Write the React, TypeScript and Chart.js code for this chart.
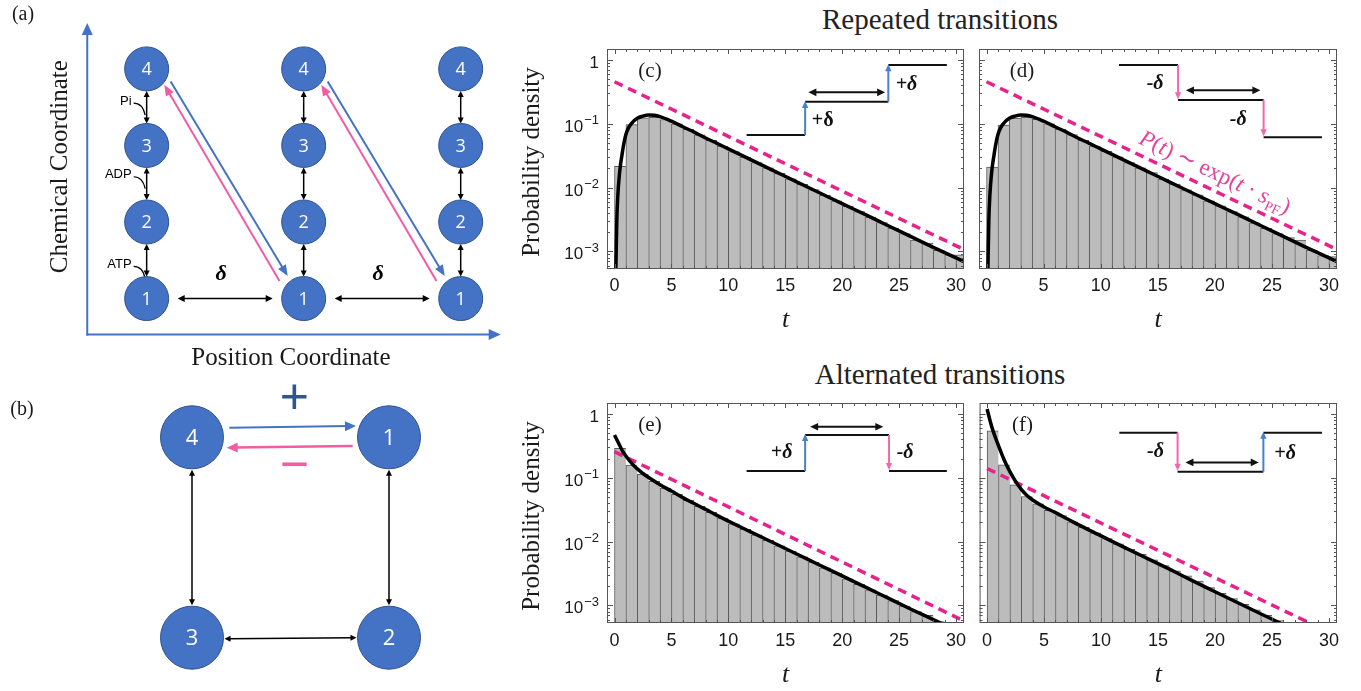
import React, { useEffect, useRef } from "react";
import { Chart, registerables } from "chart.js";

Chart.register(...registerables);

/* ---------- histogram bins: width 1, left edges ---------- */
const binLeft = [0, 1, 2, 3, 4, 5, 6, 7, 8, 9, 10, 11, 12, 13, 14, 15, 16, 17, 18, 19, 20, 21, 22, 23, 24, 25, 26, 27, 28, 29, 30];

const barsRepeatedPlus = [0.0215, 0.097, 0.124, 0.127, 0.117, 0.1, 0.082, 0.067, 0.055, 0.045, 0.0367, 0.0302, 0.0248, 0.0204, 0.0167, 0.0137, 0.0113, 0.0093, 0.0076, 0.0062, 0.0051, 0.0042, 0.00345, 0.00284, 0.00233, 0.00191, 0.0015, 0.00135, 0.00104, 0.00088, 0.00088];
const barsRepeatedMinus = [0.021, 0.096, 0.123, 0.126, 0.118, 0.1, 0.083, 0.068, 0.055, 0.045, 0.037, 0.0305, 0.0246, 0.0205, 0.0172, 0.0136, 0.0114, 0.0092, 0.0077, 0.0062, 0.0052, 0.0042, 0.0035, 0.0028, 0.0023, 0.0019, 0.00165, 0.0015, 0.00105, 0.00086, 0.00083];
const barsAlternatedPlusMinus = [0.29, 0.158, 0.113, 0.088, 0.069, 0.055, 0.0445, 0.0357, 0.0288, 0.0233, 0.019, 0.0156, 0.0128, 0.0105, 0.0086, 0.0071, 0.0058, 0.0048, 0.0039, 0.0032, 0.0026, 0.00215, 0.00176, 0.00145, 0.00119, 0.00098, 0.0008, 0.0007, 0.00056, 0.00046];
const barsAlternatedMinusPlus = [0.545, 0.16, 0.078, 0.051, 0.039, 0.031, 0.0255, 0.0205, 0.0167, 0.0137, 0.0112, 0.0092, 0.0076, 0.0063, 0.0052, 0.0042, 0.0035, 0.0029, 0.0024, 0.0019, 0.00155, 0.00128, 0.00104, 0.00085, 0.0007, 0.00058];

/* ---------- model densities ---------- */
const tRepeated = [0.12, 0.2, 0.3, 0.4, 0.5, 0.65, 0.8, 1, 1.25, 1.5, 2, 2.5, 3, 3.5, 4, 5, 6, 7, 8, 9, 10, 12, 14, 16, 18, 20, 22, 24, 26, 28, 30, 30.7];
const densityRepeated = [0.0005, 0.003, 0.008, 0.014, 0.021, 0.032, 0.047, 0.068, 0.088, 0.102, 0.122, 0.132, 0.137, 0.136, 0.13, 0.11, 0.09, 0.074, 0.06, 0.0495, 0.0405, 0.0272, 0.0183, 0.0123, 0.0083, 0.0056, 0.0038, 0.00255, 0.00172, 0.00116, 0.00079, 0.00069];

const tAltPlusMinus = [0, 0.25, 0.5, 0.75, 1, 1.5, 2, 2.5, 3, 4, 5, 6, 7, 8, 9, 10, 12, 14, 16, 18, 20, 22, 24, 26, 28, 29.5];
const densityAltPlusMinus = [0.47, 0.38, 0.31, 0.255, 0.22, 0.17, 0.138, 0.117, 0.101, 0.078, 0.062, 0.049, 0.0395, 0.032, 0.0258, 0.021, 0.0141, 0.0095, 0.0064, 0.0043, 0.0029, 0.00195, 0.00131, 0.00088, 0.0006, 0.00045];

const tAltMinusPlus = [0, 0.25, 0.5, 0.75, 1, 1.5, 2, 2.5, 3, 3.5, 4, 5, 6, 7, 8, 9, 10, 12, 14, 16, 18, 20, 22, 24, 26];
const densityAltMinusPlus = [1.2, 0.8, 0.56, 0.42, 0.32, 0.19, 0.125, 0.088, 0.066, 0.053, 0.045, 0.035, 0.0285, 0.0228, 0.0185, 0.015, 0.0123, 0.0082, 0.0055, 0.0037, 0.00245, 0.00164, 0.0011, 0.00074, 0.0005];

/* ---------- asymptotic exp(t · s_PF) lines ---------- */
const tAsymRepeated = [0, 30.7];
const asymRepeated = [0.457, 0.00107];
const tAsymAltPlusMinus = [0, 30.7];
const asymAltPlusMinus = [0.257, 0.00057];
const tAsymAltMinusPlus = [0, 28.3];
const asymAltMinusPlus = [0.14, 0.00053];

/* ---------- axis ticks ---------- */
const xTickValues = [0, 5, 10, 15, 20, 25, 30];
const yTickValues = [0.001, 0.01, 0.1, 1];
const yTickExponents = ["\u22123", "\u22122", "\u22121", ""];

/* ---------- network diagrams ---------- */
const positionColumns = [0, 1, 2];
const chemicalStates = [1, 2, 3, 4];
const chemicalLabels = ["ATP", "ADP", "Pi"];
const ringStates = [4, 1, 3, 2];
const ringCol = [0, 1, 0, 1];
const ringRow = [1, 1, 0, 0];

const BLUE = "#4472c4";
const NODE_EDGE = "#2f528f";
const PINK = "#f25ca2";
const INSET_BLUE = "#4a7fd0";
const INSET_PINK = "#f268ae";
const DASH = "#e6228c";
const TEXT = "#1a1a1a";

function drawArrow(ctx: any, x1: number, y1: number, x2: number, y2: number, color: string, width: number, hl: number, hw: number, both = false) {
  const a = Math.atan2(y2 - y1, x2 - x1);
  const c = Math.cos(a);
  const s = Math.sin(a);
  ctx.save();
  ctx.strokeStyle = color;
  ctx.fillStyle = color;
  ctx.lineWidth = width;
  ctx.lineCap = "butt";
  ctx.beginPath();
  ctx.moveTo(both ? x1 + c * hl * 0.7 : x1, both ? y1 + s * hl * 0.7 : y1);
  ctx.lineTo(x2 - c * hl * 0.7, y2 - s * hl * 0.7);
  ctx.stroke();
  const head = (tx: number, ty: number, dc: number, ds: number) => {
    ctx.beginPath();
    ctx.moveTo(tx, ty);
    ctx.lineTo(tx - dc * hl - ds * hw, ty - ds * hl + dc * hw);
    ctx.lineTo(tx - dc * hl + ds * hw, ty - ds * hl - dc * hw);
    ctx.closePath();
    ctx.fill();
  };
  head(x2, y2, c, s);
  if (both) head(x1, y1, -c, -s);
  ctx.restore();
}

/* step sketches drawn in the corner of each histogram (fractions of the plot area) */
type Inset = {
  lines: number[][];
  arrows: { p: number[]; color: string }[];
  doubles: number[][];
  labels: { text: string; fx: number; fy: number; italic: boolean }[];
};

const insetC: Inset = {
  lines: [[0.391, 0.391, 0.555, 0.391], [0.555, 0.24, 0.788, 0.24], [0.788, 0.073, 0.952, 0.073]],
  arrows: [{ p: [0.555, 0.391, 0.555, 0.236], color: INSET_BLUE }, { p: [0.788, 0.24, 0.788, 0.069], color: INSET_BLUE }],
  doubles: [[0.564, 0.197, 0.779, 0.197]],
  labels: [{ text: "+\u03b4", fx: 0.604, fy: 0.352, italic: false }, { text: "+\u03b4", fx: 0.839, fy: 0.186, italic: true }],
};
const insetD: Inset = {
  lines: [[0.391, 0.073, 0.556, 0.073], [0.556, 0.232, 0.795, 0.232], [0.795, 0.401, 0.958, 0.401]],
  arrows: [{ p: [0.556, 0.073, 0.556, 0.228], color: INSET_PINK }, { p: [0.795, 0.232, 0.795, 0.397], color: INSET_PINK }],
  doubles: [[0.578, 0.188, 0.786, 0.188]],
  labels: [{ text: "-\u03b4", fx: 0.492, fy: 0.182, italic: true }, { text: "-\u03b4", fx: 0.724, fy: 0.345, italic: true }],
};
const insetE: Inset = {
  lines: [[0.391, 0.309, 0.555, 0.309], [0.555, 0.145, 0.79, 0.145], [0.79, 0.309, 0.952, 0.309]],
  arrows: [{ p: [0.555, 0.309, 0.555, 0.141], color: INSET_BLUE }, { p: [0.79, 0.145, 0.79, 0.305], color: INSET_PINK }],
  doubles: [[0.569, 0.108, 0.774, 0.108]],
  labels: [{ text: "+\u03b4", fx: 0.489, fy: 0.25, italic: true }, { text: "-\u03b4", fx: 0.835, fy: 0.25, italic: true }],
};
const insetF: Inset = {
  lines: [[0.391, 0.135, 0.554, 0.135], [0.554, 0.312, 0.794, 0.312], [0.794, 0.135, 0.958, 0.135]],
  arrows: [{ p: [0.554, 0.135, 0.554, 0.308], color: INSET_PINK }, { p: [0.794, 0.312, 0.794, 0.131], color: INSET_BLUE }],
  doubles: [[0.576, 0.27, 0.781, 0.27]],
  labels: [{ text: "-\u03b4", fx: 0.492, fy: 0.245, italic: true }, { text: "+\u03b4", fx: 0.855, fy: 0.255, italic: true }],
};

const noteSegments = [
  { text: "P", italic: true, size: 23, dy: 0 },
  { text: "(", italic: false, size: 23, dy: 0 },
  { text: "t", italic: true, size: 23, dy: 0 },
  { text: ") \u223c exp(", italic: false, size: 23, dy: 0 },
  { text: "t", italic: true, size: 23, dy: 0 },
  { text: " \u00b7 ", italic: false, size: 23, dy: 0 },
  { text: "s", italic: true, size: 23, dy: 0 },
  { text: "PF", italic: false, size: 14, dy: 5 },
  { text: ")", italic: false, size: 23, dy: 0 },
];

type PanelSpec = {
  id: string;
  tag: string;
  box: { x: number; y: number; w: number; h: number };
  pad: { left: number; right: number; top: number };
  axisH: number;
  tickPad: number;
  titlePad: number;
  bars: number[];
  curveT: number[];
  curve: number[];
  asymT: number[];
  asym: number[];
  yLabels: boolean;
  inset: Inset;
  note: boolean;
};

const panels: PanelSpec[] = [
  { id: "c", tag: "(c)", box: { x: 510, y: 40, w: 465, h: 300 }, pad: { left: 97, right: 11, top: 9 }, axisH: 71, tickPad: 6, titlePad: 4,
    bars: barsRepeatedPlus, curveT: tRepeated, curve: densityRepeated, asymT: tAsymRepeated, asym: asymRepeated, yLabels: true, inset: insetC, note: false },
  { id: "d", tag: "(d)", box: { x: 975, y: 40, w: 380, h: 300 }, pad: { left: 4, right: 18, top: 9 }, axisH: 71, tickPad: 6, titlePad: 4,
    bars: barsRepeatedMinus, curveT: tRepeated, curve: densityRepeated, asymT: tAsymRepeated, asym: asymRepeated, yLabels: false, inset: insetD, note: true },
  { id: "e", tag: "(e)", box: { x: 510, y: 394, w: 465, h: 297 }, pad: { left: 97, right: 11, top: 9 }, axisH: 68, tickPad: 7, titlePad: 0,
    bars: barsAlternatedPlusMinus, curveT: tAltPlusMinus, curve: densityAltPlusMinus, asymT: tAsymAltPlusMinus, asym: asymAltPlusMinus, yLabels: true, inset: insetE, note: false },
  { id: "f", tag: "(f)", box: { x: 975, y: 394, w: 380, h: 297 }, pad: { left: 4, right: 18, top: 9 }, axisH: 68, tickPad: 7, titlePad: 0,
    bars: barsAlternatedMinusPlus, curveT: tAltMinusPlus, curve: densityAltMinusPlus, asymT: tAsymAltMinusPlus, asym: asymAltMinusPlus, yLabels: false, inset: insetF, note: false },
];

function histDecor(spec: PanelSpec) {
  return {
    id: "histDecor",
    afterDatasetsDraw(chart: any) {
      const { ctx, chartArea: a } = chart;
      const xs = chart.scales.x;
      const ys = chart.scales.y;
      const w = a.right - a.left;
      const h = a.bottom - a.top;
      const X = (f: number) => a.left + f * w;
      const Y = (f: number) => a.top + f * h;
      ctx.save();

      // step sketch
      ctx.strokeStyle = "#111";
      ctx.lineWidth = 2;
      ctx.beginPath();
      for (const l of spec.inset.lines) {
        ctx.moveTo(X(l[0]), Y(l[1]));
        ctx.lineTo(X(l[2]), Y(l[3]));
      }
      ctx.stroke();
      for (const ar of spec.inset.arrows) {
        drawArrow(ctx, X(ar.p[0]), Y(ar.p[1]), X(ar.p[2]), Y(ar.p[3]), ar.color, 2, 7, 3.2);
      }
      for (const d of spec.inset.doubles) {
        drawArrow(ctx, X(d[0]), Y(d[1]), X(d[2]), Y(d[3]), "#111", 2, 8, 3.8, true);
      }
      ctx.fillStyle = "#111";
      ctx.textAlign = "center";
      ctx.textBaseline = "alphabetic";
      for (const lb of spec.inset.labels) {
        ctx.font = (lb.italic ? "italic " : "") + 'bold 20px "Liberation Serif"';
        ctx.fillText(lb.text, X(lb.fx), Y(lb.fy));
      }

      // annotation along the asymptote
      if (spec.note) {
        const p0x = xs.getPixelForValue(spec.asymT[0]);
        const p0y = ys.getPixelForValue(spec.asym[0]);
        const p1x = xs.getPixelForValue(spec.asymT[1]);
        const p1y = ys.getPixelForValue(spec.asym[1]);
        const ang = Math.atan2(p1y - p0y, p1x - p0x);
        const f = 0.419;
        const bx = p0x + f * (p1x - p0x) + 10 * Math.sin(ang);
        const by = p0y + f * (p1y - p0y) - 10 * Math.cos(ang);
        ctx.save();
        ctx.translate(bx, by);
        ctx.rotate(ang);
        ctx.fillStyle = "#e3449a";
        ctx.textAlign = "left";
        let cx = 0;
        for (const sg of noteSegments) {
          ctx.font = (sg.italic ? "italic " : "") + sg.size + 'px "Liberation Serif"';
          ctx.fillText(sg.text, cx, sg.dy);
          cx += ctx.measureText(sg.text).width;
        }
        ctx.restore();
      }

      // frame
      ctx.strokeStyle = "#555";
      ctx.lineWidth = 1;
      ctx.strokeRect(a.left + 0.5, a.top + 0.5, w - 1, h - 1);

      // inward ticks on all four sides
      ctx.beginPath();
      for (let v = Math.ceil(xs.min); v <= Math.floor(xs.max); v++) {
        const px = Math.round(xs.getPixelForValue(v)) + 0.5;
        const len = v % 5 === 0 ? 5 : 3;
        ctx.moveTo(px, a.bottom);
        ctx.lineTo(px, a.bottom - len);
        ctx.moveTo(px, a.top);
        ctx.lineTo(px, a.top + len);
      }
      for (let e = -4; e <= 0; e++) {
        for (let m = 1; m <= 9; m++) {
          const v = m * Math.pow(10, e);
          if (v < ys.min || v > ys.max) continue;
          const py = Math.round(ys.getPixelForValue(v)) + 0.5;
          const len = m === 1 ? 6 : 3;
          ctx.moveTo(a.left, py);
          ctx.lineTo(a.left + len, py);
          ctx.moveTo(a.right, py);
          ctx.lineTo(a.right - len, py);
        }
      }
      ctx.stroke();

      // panel tag
      ctx.fillStyle = TEXT;
      ctx.textAlign = "center";
      ctx.font = '21px "Liberation Serif"';
      ctx.fillText(spec.tag, a.left + 43, a.top + 28);

      // log tick labels and axis name
      if (spec.yLabels) {
        const right = a.left - 8;
        ctx.textAlign = "left";
        yTickValues.forEach((v, i) => {
          const y = ys.getPixelForValue(v);
          const exp = yTickExponents[i];
          const base = exp ? "10" : "1";
          ctx.font = '17px "Liberation Sans"';
          const wb = ctx.measureText(base).width;
          ctx.font = '13px "Liberation Sans"';
          const we = exp ? ctx.measureText(exp).width + 1 : 0;
          ctx.font = '17px "Liberation Sans"';
          ctx.fillText(base, right - we - wb, y + 8);
          if (exp) {
            ctx.font = '13px "Liberation Sans"';
            ctx.fillText(exp, right - we + 1, y + 0.5);
          }
        });
        ctx.save();
        ctx.translate(a.left - 68.5, (a.top + a.bottom) / 2 + 3);
        ctx.rotate(-Math.PI / 2);
        ctx.textAlign = "center";
        ctx.font = '25px "Liberation Serif"';
        ctx.fillText("Probability density", 0, 0);
        ctx.restore();
      }
      ctx.restore();
    },
  };
}

function histConfig(spec: PanelSpec): any {
  const barData = spec.bars.map((v, i) => ({ x: binLeft[i] + 0.5, y: v }));
  const curveData = spec.curveT.map((t, i) => ({ x: t, y: spec.curve[i] }));
  const asymData = spec.asymT.map((t, i) => ({ x: t, y: spec.asym[i] }));
  return {
    type: "bar",
    data: {
      datasets: [
        { type: "line", data: curveData, borderColor: "#000", borderWidth: 3.5, pointRadius: 0, cubicInterpolationMode: "monotone", fill: false, order: 1, clip: 0 },
        { type: "line", data: asymData, borderColor: DASH, borderWidth: 3.5, borderDash: [9, 6], pointRadius: 0, fill: false, order: 2, clip: 0 },
        { type: "bar", data: barData, backgroundColor: "#bcbcbc", borderColor: "#5a5a5a", borderWidth: { top: 1, left: 1, right: 0, bottom: 0 }, barPercentage: 1, categoryPercentage: 1, order: 3, clip: 0 },
      ],
    },
    options: {
      responsive: false,
      animation: false,
      events: [],
      layout: { autoPadding: false, padding: { left: spec.pad.left, right: spec.pad.right, top: spec.pad.top, bottom: 0 } },
      plugins: { legend: { display: false }, tooltip: { enabled: false } },
      scales: {
        x: {
          type: "linear",
          min: -0.66,
          max: 30.7,
          bounds: "data",
          offset: false,
          grid: { display: false, drawTicks: false },
          border: { display: false },
          afterBuildTicks: (s: any) => {
            s.ticks = xTickValues.map((v) => ({ value: v }));
          },
          ticks: { autoSkip: false, maxRotation: 0, padding: spec.tickPad, color: TEXT, font: { family: "Liberation Sans", size: 18 }, callback: (v: any) => String(v) },
          title: { display: true, text: "t", color: TEXT, font: { family: "Liberation Serif", style: "italic", size: 26 }, padding: { top: 0, bottom: spec.titlePad } },
          afterFit: (s: any) => {
            s.height = spec.axisH;
          },
        },
        y: { type: "logarithmic", min: 5.3e-4, max: 1.49, bounds: "data", display: false },
      },
    },
    plugins: [histDecor(spec)],
  };
}

function HistPanel({ spec }: { spec: PanelSpec }) {
  const ref = useRef<HTMLCanvasElement>(null);
  useEffect(() => {
    const chart = new Chart(ref.current as HTMLCanvasElement, histConfig(spec));
    return () => chart.destroy();
  }, [spec]);
  return (
    <canvas ref={ref} width={spec.box.w} height={spec.box.h}
      style={{ position: "absolute", left: spec.box.x, top: spec.box.y, width: spec.box.w, height: spec.box.h }} />
  );
}

/* ---------- (a) position/chemical state lattice ---------- */
const NODE_R_A = 22;
const networkAPlugin = {
  id: "networkA",
  beforeDatasetsDraw(chart: any) {
    const { ctx } = chart;
    const px = (c: number) => chart.scales.x.getPixelForValue(c);
    const py = (s: number) => chart.scales.y.getPixelForValue(s);
    const r = NODE_R_A;
    const first = positionColumns[0];
    const last = positionColumns[positionColumns.length - 1];
    const low = chemicalStates[0];
    const high = chemicalStates[chemicalStates.length - 1];
    ctx.save();
    // coordinate axes
    const ox = px(first) - 59.4;
    const oy = py(low) + 36;
    drawArrow(ctx, ox, oy + 1, ox, py(high) - 46, BLUE, 2, 12, 5.5);
    drawArrow(ctx, ox - 1, oy, px(last) + 40, oy, BLUE, 2, 12, 5.5);
    // chemical transitions within each position
    for (const c of positionColumns) {
      for (let i = 0; i < chemicalStates.length - 1; i++) {
        const x = px(c);
        drawArrow(ctx, x, py(chemicalStates[i + 1]) + r, x, py(chemicalStates[i]) - r, "#000", 1.5, 6, 3, true);
      }
    }
    // ATP / ADP / Pi tags with hooks in the first column
    const tagShift = [4, -9, -6];
    ctx.font = '13px "Liberation Sans"';
    ctx.fillStyle = "#000";
    ctx.strokeStyle = "#000";
    ctx.lineWidth = 1.2;
    ctx.textBaseline = "middle";
    ctx.textAlign = "right";
    chemicalLabels.forEach((lb, i) => {
      const x = px(first);
      const y = (py(chemicalStates[i]) + py(chemicalStates[i + 1])) / 2 + tagShift[i];
      ctx.fillText(lb, x - 15, y);
      ctx.beginPath();
      ctx.moveTo(x - 13, y + 2);
      ctx.quadraticCurveTo(x - 4, y + 2, x - 1.5, y + 14);
      ctx.stroke();
    });
    // mechanical steps between ground states
    for (let k = 0; k < positionColumns.length - 1; k++) {
      const y = py(low);
      const x1 = px(positionColumns[k]) + r + 9;
      const x2 = px(positionColumns[k + 1]) - r - 9;
      drawArrow(ctx, x1, y, x2, y, "#000", 1.5, 7, 3.5, true);
      ctx.font = 'italic bold 22px "Liberation Serif"';
      ctx.textAlign = "center";
      ctx.textBaseline = "alphabetic";
      ctx.fillText("\u03b4", (x1 + x2) / 2 - 4, y - 18.5);
      // forward (blue) and backward (pink) power-stroke transitions
      const n4x = px(positionColumns[k]);
      const n4y = py(high);
      const n1x = px(positionColumns[k + 1]);
      const n1y = py(low);
      drawArrow(ctx, n4x + 24, n4y + 12.5, n1x - 16, n1y - 22.5, BLUE, 2, 11, 4.5);
      drawArrow(ctx, n1x - 24.2, n1y - 17.5, n4x + 17.6, n4y + 15.8, PINK, 2, 11, 4.5);
    }
    ctx.restore();
  },
  afterDatasetsDraw(chart: any) {
    const { ctx } = chart;
    const px = (c: number) => chart.scales.x.getPixelForValue(c);
    const py = (s: number) => chart.scales.y.getPixelForValue(s);
    ctx.save();
    ctx.fillStyle = "#fff";
    ctx.font = '18px "Open Sans"';
    ctx.textAlign = "center";
    ctx.textBaseline = "middle";
    for (const c of positionColumns) for (const s of chemicalStates) ctx.fillText(String(s), px(c), py(s) + 1);
    ctx.fillStyle = TEXT;
    ctx.textBaseline = "alphabetic";
    ctx.font = '20px "Liberation Serif"';
    ctx.fillText("(a)", 23, 20);
    ctx.font = '25px "Liberation Serif"';
    const ox = px(positionColumns[0]) - 59.4;
    const oy = py(chemicalStates[0]) + 36;
    ctx.fillText("Position Coordinate", (ox + px(positionColumns[positionColumns.length - 1]) + 40) / 2 - 3, oy + 30);
    ctx.save();
    ctx.translate(ox - 20.3, 166.7);
    ctx.rotate(-Math.PI / 2);
    ctx.fillText("Chemical Coordinate", 0, 0);
    ctx.restore();
    ctx.restore();
  },
};

function networkAConfig(): any {
  const data: any[] = [];
  for (const c of positionColumns) for (const s of chemicalStates) data.push({ x: c, y: s, r: NODE_R_A });
  return {
    type: "bubble",
    data: { datasets: [{ data, backgroundColor: BLUE, borderColor: NODE_EDGE, borderWidth: 1, clip: false }] },
    options: {
      responsive: false,
      animation: false,
      events: [],
      layout: { autoPadding: false, padding: 0 },
      plugins: { legend: { display: false }, tooltip: { enabled: false } },
      scales: {
        x: { type: "linear", display: false, min: -0.934, max: 2.314, bounds: "data" },
        y: { type: "linear", display: false, min: 0.0667, max: 4.9, bounds: "data" },
      },
    },
    plugins: [networkAPlugin],
  };
}

/* ---------- (b) four-state cycle ---------- */
const NODE_R_B = 31.5;
const networkBPlugin = {
  id: "networkB",
  beforeDatasetsDraw(chart: any) {
    const { ctx } = chart;
    const px = (c: number) => chart.scales.x.getPixelForValue(c);
    const py = (r: number) => chart.scales.y.getPixelForValue(r);
    const node = (s: number) => {
      const i = ringStates.indexOf(s);
      return { x: px(ringCol[i]), y: py(ringRow[i]) };
    };
    const r = NODE_R_B;
    const n1 = node(1), n2 = node(2), n3 = node(3), n4 = node(4);
    ctx.save();
    drawArrow(ctx, n4.x + 37.3, n4.y - 9.6, n1.x - 33, n1.y - 11.3, BLUE, 2, 11, 5);
    drawArrow(ctx, n1.x - 36.3, n1.y + 8.7, n4.x + 34.7, n4.y + 10.4, PINK, 2.5, 11, 5);
    drawArrow(ctx, n4.x, n4.y + r + 1, n3.x, n3.y - r - 1, "#000", 1.5, 6, 3, true);
    drawArrow(ctx, n1.x, n1.y + r + 1, n2.x, n2.y - r - 1, "#000", 1.5, 6, 3, true);
    drawArrow(ctx, n3.x + r + 1, n3.y + 1, n2.x - r - 1, n2.y, "#000", 1.5, 6, 3, true);
    ctx.textAlign = "center";
    ctx.textBaseline = "middle";
    ctx.font = '50px "Liberation Sans"';
    ctx.fillStyle = "#2f5597";
    ctx.fillText("+", (n4.x + n1.x) / 2 + 3.8, n4.y - 38);
    ctx.fillStyle = PINK;
    ctx.fillText("\u2212", (n4.x + n1.x) / 2 + 3.8, n4.y + 30.4);
    ctx.restore();
  },
  afterDatasetsDraw(chart: any) {
    const { ctx } = chart;
    const px = (c: number) => chart.scales.x.getPixelForValue(c);
    const py = (r: number) => chart.scales.y.getPixelForValue(r);
    ctx.save();
    ctx.fillStyle = "#fff";
    ctx.font = '22px "Open Sans"';
    ctx.textAlign = "center";
    ctx.textBaseline = "middle";
    ringStates.forEach((s, i) => ctx.fillText(String(s), px(ringCol[i]), py(ringRow[i]) + 1));
    ctx.fillStyle = TEXT;
    ctx.textBaseline = "alphabetic";
    ctx.font = '20px "Liberation Serif"';
    ctx.fillText("(b)", 22, 45);
    ctx.restore();
  },
};

function networkBConfig(): any {
  const data = ringStates.map((s, i) => ({ x: ringCol[i], y: ringRow[i], r: NODE_R_B }));
  return {
    type: "bubble",
    data: { datasets: [{ data, backgroundColor: BLUE, borderColor: NODE_EDGE, borderWidth: 1, clip: false }] },
    options: {
      responsive: false,
      animation: false,
      events: [],
      layout: { autoPadding: false, padding: 0 },
      plugins: { legend: { display: false }, tooltip: { enabled: false } },
      scales: {
        x: { type: "linear", display: false, min: -0.9746, max: 1.6142, bounds: "data" },
        y: { type: "linear", display: false, min: -0.266, max: 1.3358, bounds: "data" },
      },
    },
    plugins: [networkBPlugin],
  };
}

function DiagramCanvas({ make, x, y, w, h }: { make: () => any; x: number; y: number; w: number; h: number }) {
  const ref = useRef<HTMLCanvasElement>(null);
  useEffect(() => {
    const chart = new Chart(ref.current as HTMLCanvasElement, make());
    return () => chart.destroy();
  }, [make]);
  return <canvas ref={ref} width={w} height={h} style={{ position: "absolute", left: x, top: y, width: w, height: h }} />;
}

const titleStyle: React.CSSProperties = {
  position: "absolute",
  left: 640,
  width: 600,
  textAlign: "center",
  font: '29px "Liberation Serif"',
  lineHeight: "29px",
  color: "#222",
  whiteSpace: "nowrap",
};

export default function App() {
  return (
    <div style={{ position: "absolute", left: 0, top: 0, width: 1361, height: 691, background: "#fff", overflow: "hidden" }}>
      <DiagramCanvas make={networkAConfig} x={0} y={0} w={510} h={370} />
      <DiagramCanvas make={networkBConfig} x={0} y={370} w={510} h={321} />
      <div style={{ ...titleStyle, top: 5 }}>Repeated transitions</div>
      <div style={{ ...titleStyle, top: 360 }}>Alternated transitions</div>
      {panels.map((p) => (
        <HistPanel key={p.id} spec={p} />
      ))}
    </div>
  );
}
